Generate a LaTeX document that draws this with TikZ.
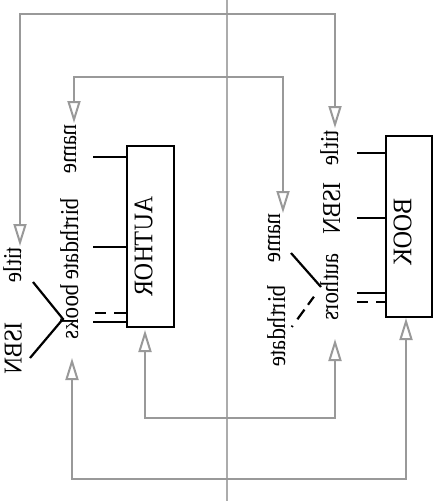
\documentclass[tikz,border=0pt]{standalone}
\usepackage{fontspec}
\setmainfont{Liberation Serif}
\usetikzlibrary{arrows.meta}
\begin{document}
\begin{tikzpicture}[x=1pt,y=-1pt,
  tr/.style={cm={0,-1,-1.12,0,(0,0)}},
  lbl/.style={tr, inner sep=0pt, anchor=base west, font=\fontsize{23}{27}\selectfont},
  ttl/.style={tr, inner sep=0pt, anchor=center, font=\fontsize{24}{28}\selectfont},
  entity/.style={draw, line width=2.7pt, inner sep=0pt},
  stub/.style={line width=2.2pt, black},
  conn/.style={draw=gray!80, line width=2pt, {Triangle[open, length=22pt, width=13pt]}-{Triangle[open, length=22pt, width=13pt]}},
  divider/.style={draw=gray!65, line width=1.5pt}]
\useasboundingbox (0,0) rectangle (444,501);
\fill[white] (0,0) rectangle (444,501);
% divider
\coordinate (dtop) at (227,0);
\coordinate (dbot) at (227,501);
\draw[divider] (dtop) -- (dbot);
% entities
\node[entity, minimum width=47pt, minimum height=181pt] (author) at (150.5,236.5) {};
\node[entity, minimum width=46pt, minimum height=181pt] (book) at (409,226.5) {};
\node[ttl] (authorlbl) at (143.5,246.5) {AUTHOR};
\node[ttl] (booklbl) at (402.5,232) {BOOK};
% AUTHOR side labels
\node[lbl] (anamel) at (76,124) {name};
\node[lbl] (abirthl) at (78,198) {birthdate};
\node[lbl] (abooksl) at (78,284) {books};
\node[lbl] (ltitlel) at (21,247) {title};
\node[lbl] (lisbnl) at (21.5,322) {ISBN};
% BOOK side labels
\node[lbl] (btitlel) at (338,130) {title};
\node[lbl] (bisbnl) at (340,182) {ISBN};
\node[lbl] (bnamel) at (280,213) {name};
\node[lbl] (bbirthl) at (285,285) {birthdate};
\node[lbl] (bauthl) at (338,253) {authors};
% AUTHOR stubs
\coordinate (s1) at (93,157);
\coordinate (s2) at (93,247);
\coordinate (s3) at (95,313);
\coordinate (s4) at (93,322);
\draw[stub] (s1) -- (s1 -| author.west);
\draw[stub] (s2) -- (s2 -| author.west);
\draw[stub, dash pattern=on 11pt off 8pt on 12pt off 0pt] (s3) -- (s3 -| author.west);
\draw[stub] (s4) -- (s4 -| author.west);
% BOOK stubs
\coordinate (t1) at (357,153);
\coordinate (t2) at (357,218);
\coordinate (t3) at (357,293);
\coordinate (t4) at (357,302);
\draw[stub] (t1) -- (t1 -| book.west);
\draw[stub] (t2) -- (t2 -| book.west);
\draw[stub] (t3) -- (t3 -| book.west);
\draw[stub, dash pattern=on 11pt off 8pt on 11pt off 0pt] (t4) -- (t4 -| book.west);
% crow's feet
\coordinate (aj) at (63,319);
\coordinate (aja) at (33,282);
\coordinate (ajb) at (30,358);
\draw[stub] (aja) -- (aj) -- (ajb);
\coordinate (bj) at (321,287);
\coordinate (bja) at (291,253);
\coordinate (bjb) at (291,328);
\draw[stub] (bja) -- (bj);
\draw[stub, dash pattern=on 0pt off 12pt on 10pt off 6pt on 12pt off 8pt on 1.5pt off 20pt] (bj) -- (bjb);
% connector tips
\coordinate (ltitle) at (20,246);
\coordinate (btitle) at (335,128);
\coordinate (aname) at (74,123);
\coordinate (bname) at (283,213);
\coordinate (abox) at (145,330);
\coordinate (bauth) at (335,339);
\coordinate (aisbn) at (72,358);
\coordinate (bbox) at (406,318);
\draw[conn] (ltitle) -- ++(0,-232) -| (btitle);
\draw[conn] (aname) -- ++(0,-46) -| (bname);
\draw[conn] (abox) -- ++(0,88) -| (bauth);
\draw[conn] (aisbn) -- ++(0,121) -| (bbox);
\end{tikzpicture}
\end{document}
